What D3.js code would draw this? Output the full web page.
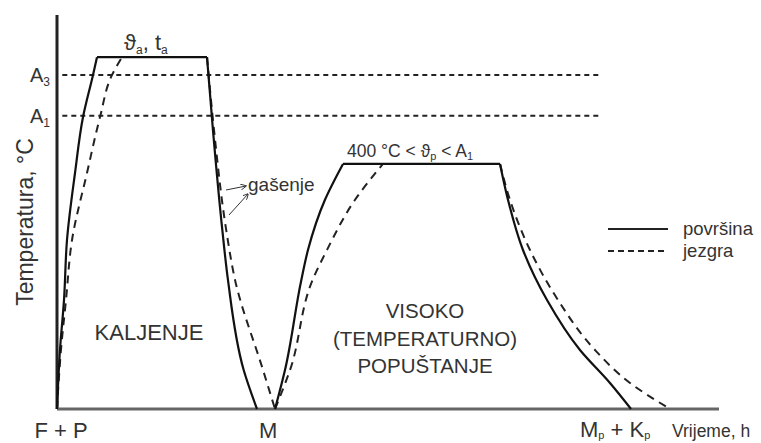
<!DOCTYPE html>
<html>
<head>
  <meta charset="UTF-8">
  <script src="https://d3js.org/d3.v7.min.js"></script>
  <style>
    body { margin: 0; background: #fff; }
    text { font-family: Arial, "Liberation Sans", sans-serif; fill: #333; }
  </style>
</head>
<body>
  <script>
    // time (0..100) and temperature (0..100)
    var surfaceHeat = [[0, 0], [0.45, 15], [1.06, 27.7], [1.51, 42.9], [2.72, 59.9], [3.93, 74.1], [5.44, 84.8], [6.04, 89.3]];
    var coreHeat = [[0, 0], [0.6, 15], [1.36, 27.7], [2.27, 42.9], [4.53, 59.9], [6.5, 74.1], [8.31, 84.8], [9.82, 89.3]];
    var hardenPlateau = [[6.04, 89.3], [22.66, 89.3]];
    var surfaceQuench = [[22.66, 89.3], [23.56, 70.8], [25.0, 45], [25.83, 32.7], [28.2, 9.9], [30.21, 0]];
    var coreQuench = [[22.66, 89.3], [23.72, 70.8], [25.6, 45], [26.9, 32.7], [31.12, 9.9], [32.93, 0]];
    var surfaceReheat = [[32.93, 0], [34.44, 9.9], [36.9, 32.7], [37.92, 40.4], [40.48, 53.1], [43.2, 62.2]];
    var coreReheat = [[32.93, 0], [35.2, 9.9], [38.6, 32.7], [40.79, 40.4], [45.02, 53.1], [49.24, 62.2]];
    var temperPlateau = [[43.2, 62.2], [66.92, 62.2]];
    var surfaceCool = [[66.92, 62.2], [68.13, 53.05], [70.39, 40.36], [74.02, 27.66], [79.0, 14.97], [83.53, 6.6], [86.71, 0]];
    var coreCool = [[66.92, 62.2], [68.43, 53.05], [71.45, 40.36], [75.68, 27.66], [81.27, 14.97], [86.56, 6.6], [92.6, 0]];

    var critTemps = [{ name: "A", sub: "3", t: 84.8 }, { name: "A", sub: "1", t: 74.4 }];
    var xTicks = [{ t: 0.6, main: "F + P" }, { t: 31.9, main: "M" }];

    var width = 761, height = 443;
    var svg = d3.select("body").append("svg")
      .attr("width", width)
      .attr("height", height);

    var x = d3.scaleLinear().domain([0, 100]).range([57, 719]);
    var y = d3.scaleLinear().domain([0, 100]).range([409, 15]);

    var line = d3.line()
      .x(function(d) { return x(d[0]); })
      .y(function(d) { return y(d[1]); })
      .curve(d3.curveMonotoneY);
    var flat = d3.line()
      .x(function(d) { return x(d[0]); })
      .y(function(d) { return y(d[1]); });

    // helper for text with subscripts: parts = [[text, isSub], ...]
    function subText(g, parts, big, small, shift) {
      var prevSub = false;
      parts.forEach(function(p) {
        var ts = g.append("tspan").text(p[0]);
        if (p[1]) { ts.attr("font-size", small); if (!prevSub) ts.attr("dy", shift); }
        else if (prevSub) ts.attr("dy", -shift);
        prevSub = p[1];
      });
      g.attr("font-size", big);
      return g;
    }

    // A3 / A1 dashed reference lines
    critTemps.forEach(function(c) {
      svg.append("line")
        .attr("x1", x(0.8)).attr("x2", x(82.2))
        .attr("y1", y(c.t)).attr("y2", y(c.t))
        .attr("stroke", "#222").attr("stroke-width", 2)
        .attr("stroke-dasharray", "5,4");
      subText(svg.append("text").attr("x", 30).attr("y", y(c.t) + 7),
        [[c.name, false], [c.sub, true]], 20, 12, 4);
    });

    // axes
    svg.append("line")
      .attr("x1", x(0)).attr("x2", x(0)).attr("y1", y(100)).attr("y2", y(0))
      .attr("stroke", "#222").attr("stroke-width", 3);
    svg.append("line")
      .attr("x1", x(0)).attr("x2", x(100)).attr("y1", y(0)).attr("y2", y(0))
      .attr("stroke", "#666").attr("stroke-width", 3);

    // core (jezgra) curves
    [coreHeat, coreQuench, coreReheat, coreCool].forEach(function(d) {
      svg.append("path").datum(d).attr("d", line)
        .attr("fill", "none").attr("stroke", "#222").attr("stroke-width", 2)
        .attr("stroke-dasharray", "8,6");
    });

    // surface (površina) curves
    [surfaceHeat, surfaceQuench, surfaceReheat, surfaceCool].forEach(function(d) {
      svg.append("path").datum(d).attr("d", line)
        .attr("fill", "none").attr("stroke", "#111").attr("stroke-width", 2.2);
    });
    [hardenPlateau, temperPlateau].forEach(function(d) {
      svg.append("path").datum(d).attr("d", flat)
        .attr("fill", "none").attr("stroke", "#111").attr("stroke-width", 2.2);
    });

    // labels on the curves
    subText(svg.append("text").attr("x", 124).attr("y", 50),
      [["ϑ", false], ["a", true], [", t", false], ["a", true]], 22, 12, 4);
    subText(svg.append("text").attr("x", 347).attr("y", 157),
      [["400 °C < ϑ", false], ["p", true], [" < A", false], ["1", true]], 17.5, 11, 3);

    // gašenje with arrows
    svg.append("defs").append("marker")
      .attr("id", "arr").attr("viewBox", "0 0 10 10")
      .attr("refX", 9).attr("refY", 5)
      .attr("markerWidth", 6).attr("markerHeight", 6)
      .attr("orient", "auto")
      .append("path").attr("d", "M0,0 L10,5 L0,10").attr("fill", "none").attr("stroke", "#333").attr("stroke-width", 1.5);
    [[226, 190, 246, 186], [229, 215, 248, 194]].forEach(function(a) {
      svg.append("line")
        .attr("x1", a[0]).attr("y1", a[1]).attr("x2", a[2]).attr("y2", a[3])
        .attr("stroke", "#333").attr("stroke-width", 1)
        .attr("marker-end", "url(#arr)");
    });
    svg.append("text").attr("x", 248).attr("y", 191).attr("font-size", 19).text("gašenje");

    // region labels
    svg.append("text").attr("x", 149).attr("y", 340).attr("font-size", 22)
      .attr("text-anchor", "middle").text("KALJENJE");
    ["VISOKO", "(TEMPERATURNO)", "POPUŠTANJE"].forEach(function(s, i) {
      svg.append("text").attr("x", 425).attr("y", 318 + i * 27.5).attr("font-size", 20.5)
        .attr("text-anchor", "middle").text(s);
    });

    // y axis title
    svg.append("text")
      .attr("transform", "translate(33,222) rotate(-90)")
      .attr("text-anchor", "middle").attr("font-size", 23)
      .text("Temperatura, °C");

    // x axis labels
    xTicks.forEach(function(d) {
      svg.append("text").attr("x", x(d.t)).attr("y", 438)
        .attr("text-anchor", "middle").attr("font-size", 22).text(d.main);
    });
    subText(svg.append("text").attr("x", 580).attr("y", 437),
      [["M", false], ["p", true], [" + K", false], ["p", true]], 22, 11, 2);
    svg.append("text").attr("x", 672).attr("y", 437).attr("font-size", 17.5).text("Vrijeme, h");

    // legend
    var legend = [{ label: "površina", dash: null }, { label: "jezgra", dash: "6,4" }];
    legend.forEach(function(d, i) {
      var ly = 229 + i * 22;
      svg.append("line").attr("x1", 608).attr("x2", 668).attr("y1", ly).attr("y2", ly)
        .attr("stroke", "#222").attr("stroke-width", 2)
        .attr("stroke-dasharray", d.dash);
      svg.append("text").attr("x", 683).attr("y", ly + 6).attr("font-size", 18.5).text(d.label);
    });
  </script>
</body>
</html>
